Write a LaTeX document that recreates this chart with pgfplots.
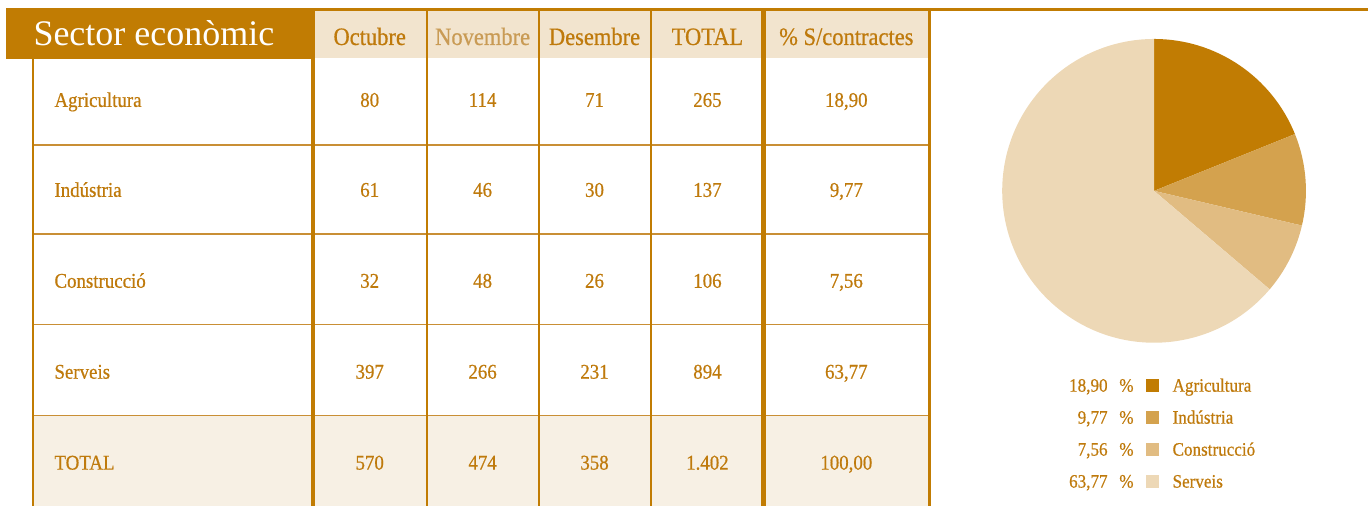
\documentclass[border=0pt]{standalone}
\usepackage{pgfplots}
\usepackage{pgfplotstable}
\pgfplotsset{compat=1.18}
\usepackage{fontspec}
\setmainfont{Liberation Serif}
\newfontfamily\cond{Liberation Serif}[FakeStretch=0.9,FakeBold=0.6]
\definecolor{brown}{HTML}{C17C03}
\definecolor{txt}{HTML}{BF7A0C}
\definecolor{txtlight}{HTML}{C99B55}
\definecolor{hdrbg}{HTML}{F2E4CE}
\definecolor{totbg}{HTML}{F7F0E4}
\definecolor{lineclr}{HTML}{C98F35}
\definecolor{pie0}{HTML}{C17C03}
\definecolor{pie1}{HTML}{D4A24E}
\definecolor{pie2}{HTML}{E1BC82}
\definecolor{pie3}{HTML}{EDD8B6}
\pgfplotstableread{
name pct
Agricultura 18.90
Industria 9.77
Construccio 7.56
Serveis 63.77
}\piedata
\begin{document}
\begin{tikzpicture}
\begin{axis}[x=1pt,y=1pt,y dir=reverse,xmin=0,xmax=1369,ymin=0,ymax=506,
  hide axis,clip=false]
\path (axis cs:0,0) (axis cs:1369,506);
% backgrounds
\fill[totbg] (axis cs:33,416) rectangle (axis cs:930,506);
\fill[hdrbg] (axis cs:315,11) rectangle (axis cs:930,58);
\fill[brown] (axis cs:6,8) rectangle (axis cs:315,59);
% top line
\draw[brown,line width=2.2pt] (axis cs:313,9.5) -- (axis cs:1369,9.5);
% horizontal lines
\draw[lineclr,line width=1.4pt] (axis cs:33,145) -- (axis cs:930,145);
\draw[lineclr,line width=1.4pt] (axis cs:33,234) -- (axis cs:930,234);
\draw[lineclr,line width=1.4pt] (axis cs:33,325) -- (axis cs:930,325);
\draw[lineclr,line width=1.4pt] (axis cs:33,416) -- (axis cs:930,416);
% vertical lines
\draw[brown,line width=2pt] (axis cs:33,59) -- (axis cs:33,506);
\draw[brown,line width=3.5pt] (axis cs:313,9) -- (axis cs:313,506);
\draw[brown,line width=2pt] (axis cs:427,9) -- (axis cs:427,506);
\draw[brown,line width=2pt] (axis cs:539,9) -- (axis cs:539,506);
\draw[brown,line width=2pt] (axis cs:652,9) -- (axis cs:652,506);
\draw[brown,line width=4.5pt] (axis cs:764,9) -- (axis cs:764,506);
\draw[brown,line width=3pt] (axis cs:930,9) -- (axis cs:930,506);
% title
\node[anchor=base west,text=white,font=\fontsize{36}{40}\selectfont] at (axis cs:30,46) {Sector econòmic};
% header
\tikzset{hd/.style={anchor=base,text=txt,font=\cond\fontsize{25}{28}\selectfont}}
\node[hd] at (axis cs:370,45) {Octubre};
\node[hd,text=txtlight] at (axis cs:483,45) {Novembre};
\node[hd] at (axis cs:595,45) {Desembre};
\node[hd] at (axis cs:708,45) {TOTAL};
\node[hd] at (axis cs:847,45) {\% S/contractes};
% rows
\tikzset{rl/.style={anchor=base west,text=txt,font=\cond\fontsize{21}{24}\selectfont},
         rv/.style={anchor=base,text=txt,font=\cond\fontsize{21}{24}\selectfont}}
\node[rl] at (axis cs:51,107) {Agricultura};
\node[rl] at (axis cs:51,197) {Indústria};
\node[rl] at (axis cs:51,288) {Construcció};
\node[rl] at (axis cs:51,379) {Serveis};
\node[rl] at (axis cs:51,470) {TOTAL};
\node[rv] at (axis cs:370,107) {80};
\node[rv] at (axis cs:483,107) {114};
\node[rv] at (axis cs:595,107) {71};
\node[rv] at (axis cs:708,107) {265};
\node[rv] at (axis cs:847,107) {18,90};
\node[rv] at (axis cs:370,197) {61};
\node[rv] at (axis cs:483,197) {46};
\node[rv] at (axis cs:595,197) {30};
\node[rv] at (axis cs:708,197) {137};
\node[rv] at (axis cs:847,197) {9,77};
\node[rv] at (axis cs:370,288) {32};
\node[rv] at (axis cs:483,288) {48};
\node[rv] at (axis cs:595,288) {26};
\node[rv] at (axis cs:708,288) {106};
\node[rv] at (axis cs:847,288) {7,56};
\node[rv] at (axis cs:370,379) {397};
\node[rv] at (axis cs:483,379) {266};
\node[rv] at (axis cs:595,379) {231};
\node[rv] at (axis cs:708,379) {894};
\node[rv] at (axis cs:847,379) {63,77};
\node[rv] at (axis cs:370,470) {570};
\node[rv] at (axis cs:483,470) {474};
\node[rv] at (axis cs:595,470) {358};
\node[rv] at (axis cs:708,470) {1.402};
\node[rv] at (axis cs:847,470) {100,00};
% pie
\xdef\cumangle{90}
\pgfplotsinvokeforeach{0,...,3}{
  \pgfplotstablegetelem{#1}{pct}\of\piedata
  \pgfmathsetmacro\sweep{3.6*\pgfplotsretval}
  \pgfmathsetmacro\endang{\cumangle-\sweep}
  \edef\temp{\noexpand\fill[pie#1] (axis cs:1155,191) -- ++(\cumangle:152pt) arc[start angle=\cumangle, end angle=\endang, radius=152pt] -- cycle;}
  \temp
  \xdef\cumangle{\endang}
}
% legend
\tikzset{lv/.style={anchor=base east,text=txt,font=\cond\fontsize{19}{22}\selectfont},
         lt/.style={anchor=base west,text=txt,font=\cond\fontsize{19}{22}\selectfont}}
\node[lv] at (axis cs:1112,392) {18,90};
\node[lv] at (axis cs:1138,392) {\%};
\fill[pie0] (axis cs:1147,379) rectangle (axis cs:1160,392);
\node[lt] at (axis cs:1170,392) {Agricultura};
\node[lv] at (axis cs:1112,424) {9,77};
\node[lv] at (axis cs:1138,424) {\%};
\fill[pie1] (axis cs:1147,411) rectangle (axis cs:1160,424);
\node[lt] at (axis cs:1170,424) {Indústria};
\node[lv] at (axis cs:1112,456) {7,56};
\node[lv] at (axis cs:1138,456) {\%};
\fill[pie2] (axis cs:1147,443) rectangle (axis cs:1160,456);
\node[lt] at (axis cs:1170,456) {Construcció};
\node[lv] at (axis cs:1112,488) {63,77};
\node[lv] at (axis cs:1138,488) {\%};
\fill[pie3] (axis cs:1147,475) rectangle (axis cs:1160,488);
\node[lt] at (axis cs:1170,488) {Serveis};
\end{axis}
\end{tikzpicture}
\end{document}
